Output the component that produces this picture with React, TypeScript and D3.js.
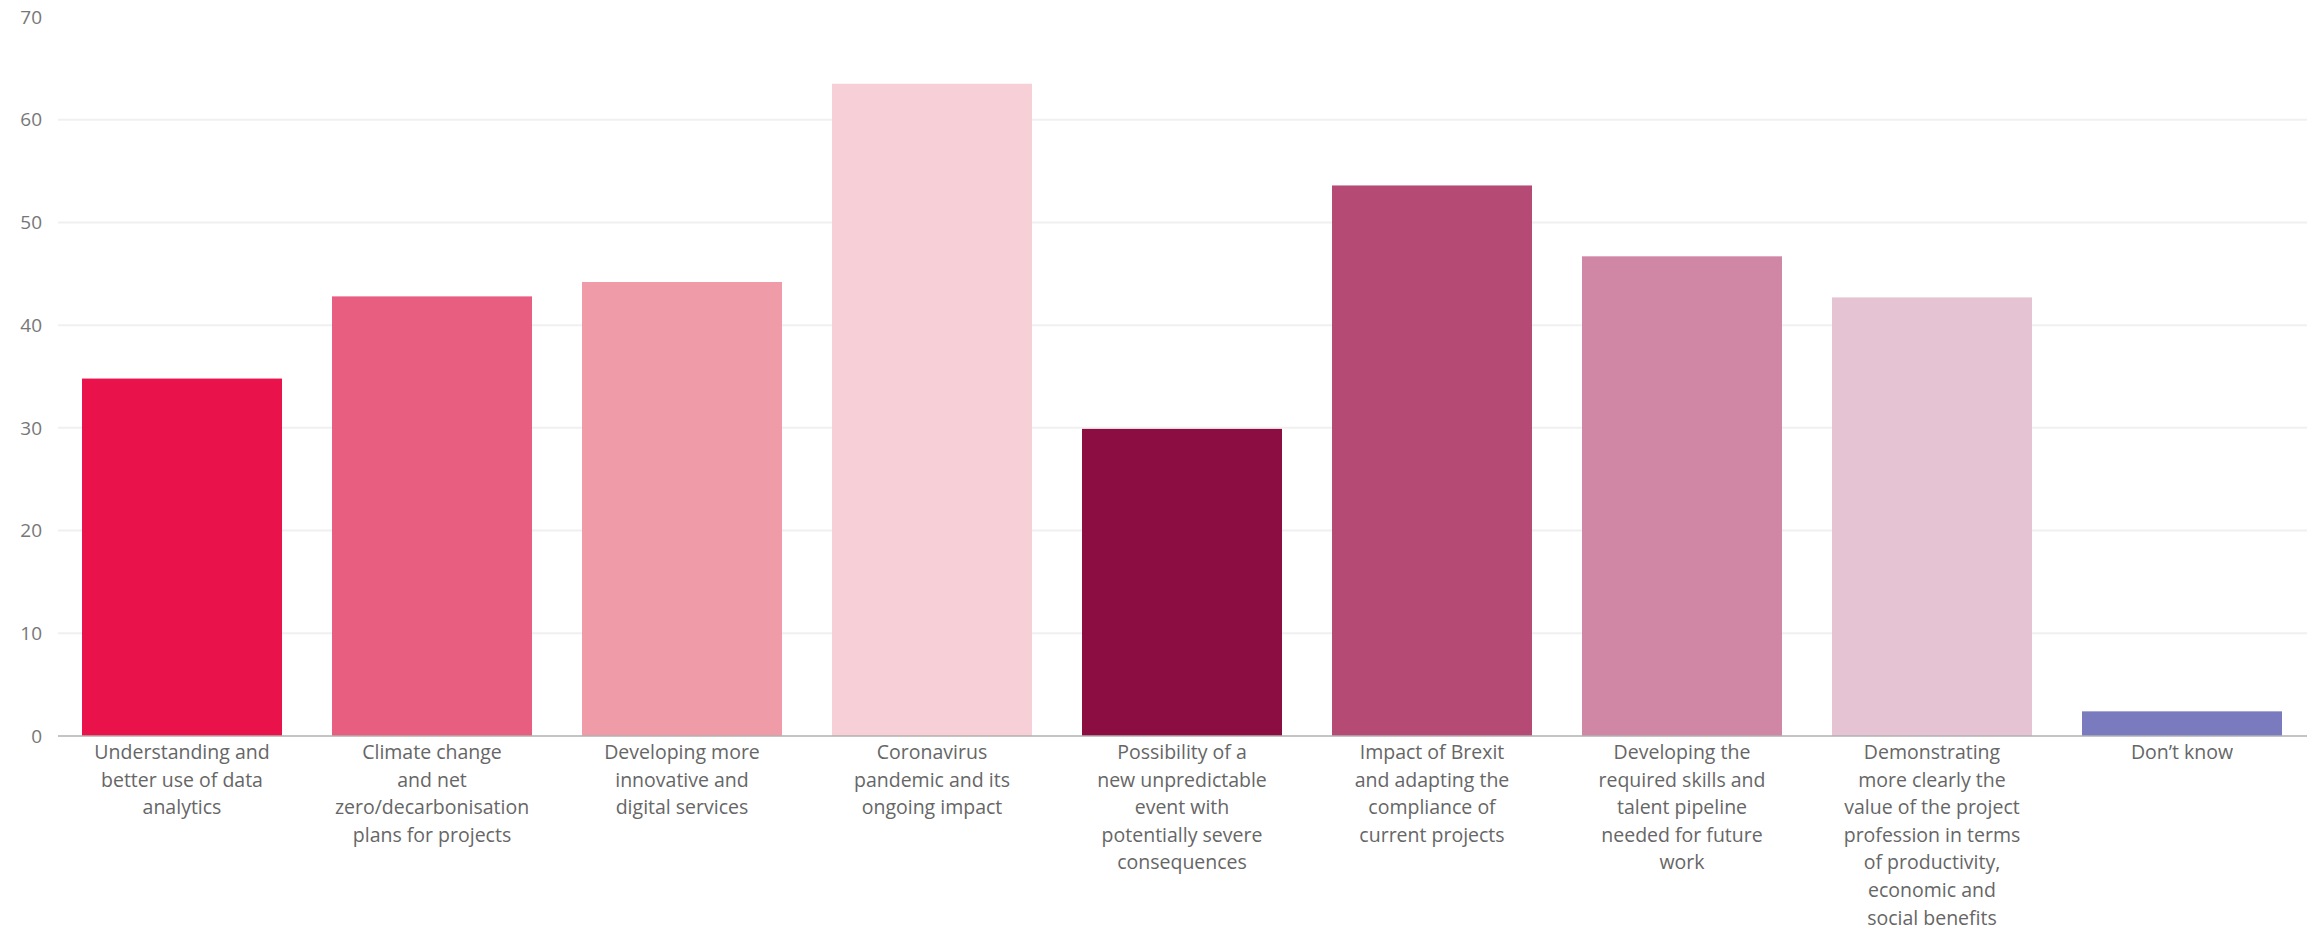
import * as d3 from "d3";
import { useEffect, useRef } from "react";

const categories = [
  "Understanding and\nbetter use of data\nanalytics",
  "Climate change\nand net\nzero/decarbonisation\nplans for projects",
  "Developing more\ninnovative and\ndigital services",
  "Coronavirus\npandemic and its\nongoing impact",
  "Possibility of a\nnew unpredictable\nevent with\npotentially severe\nconsequences",
  "Impact of Brexit\nand adapting the\ncompliance of\ncurrent projects",
  "Developing the\nrequired skills and\ntalent pipeline\nneeded for future\nwork",
  "Demonstrating\nmore clearly the\nvalue of the project\nprofession in terms\nof productivity,\neconomic and\nsocial benefits",
  "Don\u2019t know"
];

const values = [34.8, 42.8, 44.2, 63.5, 29.9, 53.6, 46.7, 42.7, 2.4];

const colors = [
  "#e9124b",
  "#e75e80",
  "#ef9ba8",
  "#f7cfd7",
  "#8c0d42",
  "#b54b74",
  "#cf87a5",
  "#e6c3d3",
  "#7a7bbe"
];

const yTicks = [0, 10, 20, 30, 40, 50, 60, 70];

const W = 2321;
const H = 933;

export default function App() {
  const ref = useRef<SVGSVGElement | null>(null);

  useEffect(() => {
    document.body.style.margin = "0";
    if (!ref.current) return;

    const svg = d3.select(ref.current);
    svg.selectAll("*").remove();

    const x = d3.scaleBand<string>()
      .domain(categories)
      .range([57, 2307])
      .paddingInner(0.2)
      .paddingOuter(0.1);

    const y = d3.scaleLinear().domain([0, 70]).range([736, 17]);

    const font = "'Open Sans', 'DejaVu Sans', sans-serif";

    // gridlines
    svg.append("g")
      .selectAll("line")
      .data(yTicks.filter(t => t > 0 && t < 70))
      .enter()
      .append("line")
      .attr("x1", 58)
      .attr("x2", 2307)
      .attr("y1", d => y(d))
      .attr("y2", d => y(d))
      .attr("stroke", "#f0f0f0")
      .attr("stroke-width", 2);

    // y tick labels
    svg.append("g")
      .selectAll("text")
      .data(yTicks)
      .enter()
      .append("text")
      .attr("x", 42)
      .attr("y", d => y(d))
      .attr("dy", "0.35em")
      .attr("text-anchor", "end")
      .attr("font-family", font)
      .attr("font-size", 19)
      .attr("fill", "#777")
      .text(d => d);

    // bars
    svg.append("g")
      .selectAll("rect")
      .data(values)
      .enter()
      .append("rect")
      .attr("x", (_, i) => x(categories[i])!)
      .attr("width", x.bandwidth())
      .attr("y", d => y(d))
      .attr("height", d => y(0) - y(d))
      .attr("fill", (_, i) => colors[i]);

    // baseline
    svg.append("line")
      .attr("x1", 58)
      .attr("x2", 2307)
      .attr("y1", y(0))
      .attr("y2", y(0))
      .attr("stroke", "#b0b0b0")
      .attr("stroke-width", 1.5);

    // category labels
    const labels = svg.append("g")
      .selectAll("text")
      .data(categories)
      .enter()
      .append("text")
      .attr("x", d => x(d)! + x.bandwidth() / 2)
      .attr("y", 759)
      .attr("text-anchor", "middle")
      .attr("font-family", font)
      .attr("font-size", 19.5)
      .attr("fill", "#666");

    labels.selectAll("tspan")
      .data(d => d.split("\n").map(line => ({ line, cx: x(d)! + x.bandwidth() / 2 })))
      .enter()
      .append("tspan")
      .attr("x", d => d.cx)
      .attr("dy", (_, i) => (i === 0 ? 0 : 27.6))
      .text(d => d.line);
  }, []);

  return (
    <svg
      ref={ref}
      width={W}
      height={H}
      style={{ display: "block", background: "#fff" }}
    />
  );
}
